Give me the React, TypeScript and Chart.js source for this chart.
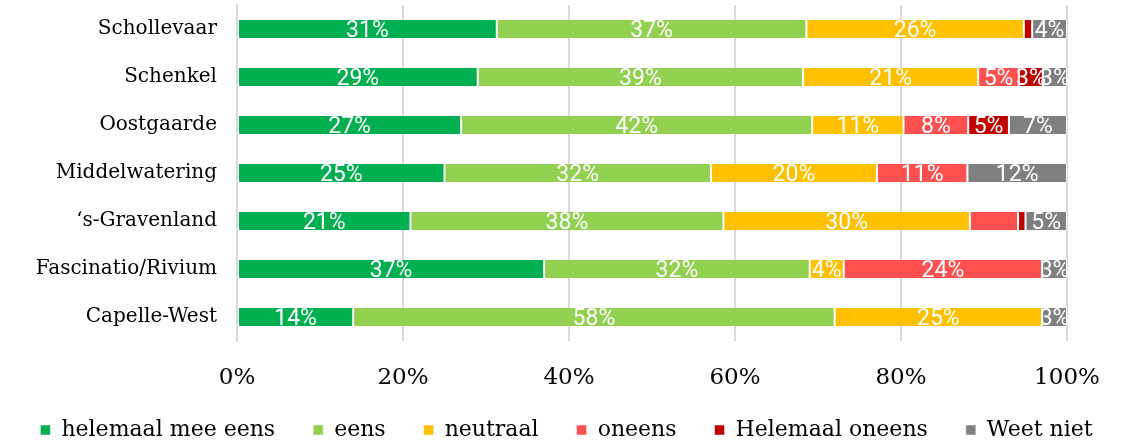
import React, { useEffect, useRef } from "react";
import { Chart, registerables } from "chart.js";

Chart.register(...registerables);

const categories = [
  "Schollevaar",
  "Schenkel",
  "Oostgaarde",
  "Middelwatering",
  "\u2018s-Gravenland",
  "Fascinatio/Rivium",
  "Capelle-West",
];

const seriesNames = ["helemaal mee eens", "eens", "neutraal", "oneens", "Helemaal oneens", "Weet niet"];

const helemaalMeeEens = [31.3, 29.0, 27.0, 25.0, 20.9, 37.0, 14.0];
const eens = [37.3, 39.2, 42.3, 32.1, 37.7, 32.0, 58.0];
const neutraal = [26.2, 21.1, 11.0, 20.0, 29.7, 4.1, 25.0];
const oneens = [0, 4.9, 7.8, 10.9, 5.8, 23.9, 0];
const helemaalOneens = [1.0, 2.9, 4.9, 0, 0.9, 0, 0];
const weetNiet = [4.2, 2.9, 7.0, 12.0, 5.0, 3.0, 3.0];

const xTicks = [0, 20, 40, 60, 80, 100];

// labels not shown in the reference: [seriesIndex, categoryIndex]
const hiddenLabels = [[3, 4]];

const colors = ["#00b050", "#92d050", "#ffc000", "#ff5050", "#c00000", "#808080"];

const SERIF = "'DejaVu Serif', serif";

export default function App() {
  const ref = useRef<HTMLCanvasElement | null>(null);

  useEffect(() => {
    document.body.style.margin = "0";
    const values = [helemaalMeeEens, eens, neutraal, oneens, helemaalOneens, weetNiet];

    const labelPlugin = {
      id: "segLabels",
      afterDatasetsDraw(chart: any) {
        const ctx = chart.ctx;
        ctx.save();
        ctx.font = "23px Roboto";
        ctx.fillStyle = "#ffffff";
        ctx.textAlign = "center";
        ctx.textBaseline = "alphabetic";
        chart.data.datasets.forEach((ds: any, di: number) => {
          const meta = chart.getDatasetMeta(di);
          meta.data.forEach((bar: any, i: number) => {
            const v = ds.data[i];
            if (!v || v < 2) return;
            if (hiddenLabels.some(([a, b]) => a === di && b === i)) return;
            const cx = (bar.x + bar.base) / 2;
            ctx.fillText(Math.round(v) + "%", cx, bar.y + 8);
          });
        });
        ctx.restore();
      },
    };

    const legendSizer = {
      id: "legendSizer",
      beforeLayout(chart: any) {
        const lg = chart.legend;
        if (lg && !lg.__patched) {
          const origFit = lg.fit;
          lg.fit = function () {
            origFit.call(this);
            this.height = 48;
          };
          const origDraw = lg.draw;
          lg.draw = function () {
            const t = this.top;
            this.top = t - 12;
            origDraw.call(this);
            this.top = t;
          };
          lg.__patched = true;
        }
      },
    };

    const chart = new Chart(ref.current as HTMLCanvasElement, {
      type: "bar",
      data: {
        labels: categories,
        datasets: seriesNames.map((name, k) => ({
          label: name,
          data: values[k],
          backgroundColor: colors[k],
          borderColor: "#ffffff",
          borderWidth: { left: 1, right: 1, top: 0, bottom: 0 },
          borderSkipped: false,
          barPercentage: 0.75,
          categoryPercentage: 0.5,
        })),
      },
      options: {
        indexAxis: "y",
        responsive: true,
        maintainAspectRatio: false,
        animation: false,
        layout: { padding: { top: 5, right: 0, left: 0, bottom: 0 } },
        plugins: {
          tooltip: { enabled: false },
          legend: {
            position: "bottom",
            labels: {
              font: { family: SERIF, size: 22 },
              color: "#000000",
              boxWidth: 10,
              boxHeight: 10,
              padding: 38,
            },
          },
        },
        scales: {
          x: {
            stacked: true,
            min: 0,
            max: 100,
            afterBuildTicks(scale: any) {
              scale.ticks = xTicks.map((v) => ({ value: v }));
            },
            ticks: {
              callback: (v: any) => v + "%",
              font: { family: SERIF, size: 23 },
              color: "#000000",
              padding: 23,
            },
            grid: { color: "#d9d9d9", lineWidth: 2, drawTicks: false },
            border: { display: false },
            afterFit(scale: any) {
              scale.height = 52;
            },
          },
          y: {
            stacked: true,
            ticks: {
              font: { family: SERIF, size: 20 },
              color: "#000000",
              padding: 20,
            },
            grid: { display: false, drawTicks: false },
            border: { display: true, color: "#d9d9d9", width: 2 },
            afterFit(scale: any) {
              scale.width = 237;
              scale.paddingTop = 0;
              scale.paddingBottom = 0;
            },
          },
          yRight: {
            type: "category",
            position: "right",
            labels: categories,
            ticks: { display: false },
            grid: { display: false, drawTicks: false },
            border: { display: false },
            afterFit(scale: any) {
              scale.width = 66;
              scale.paddingTop = 0;
              scale.paddingBottom = 0;
            },
          },
        },
      },
      plugins: [labelPlugin, legendSizer],
    } as any);
    return () => chart.destroy();
  }, []);

  return (
    <div style={{ position: "relative", width: 1133, height: 441 }}>
      <canvas ref={ref} />
    </div>
  );
}
